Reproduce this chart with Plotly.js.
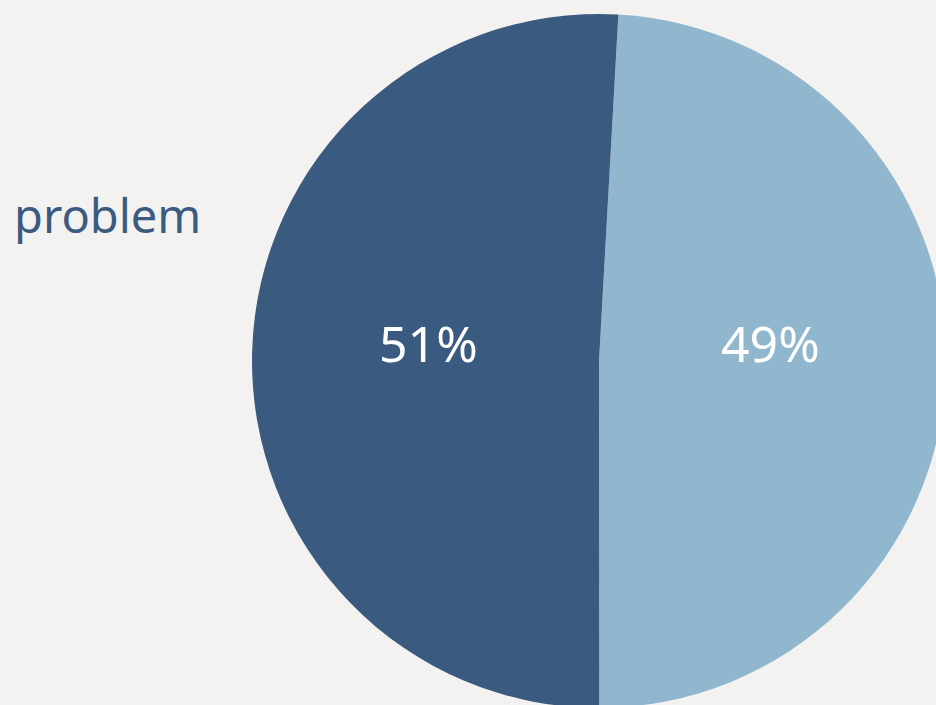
<!DOCTYPE html>
<html>
<head>
<meta charset="utf-8">
<script src="https://cdn.plot.ly/plotly-3.0.1.min.js"></script>
<style>
html,body{margin:0;padding:0;overflow:hidden;background:#f3f2f0;}
#chart{width:960px;height:720px;}
</style>
</head>
<body>
<div id="chart"></div>
<script>
const labels = ["Not a problem", "problem"];
const values = [49.1, 50.9];
const colors = ["#90b7ce", "#3a5b7f"];
const sideLabel = "problem";

const total = values.reduce((a, b) => a + b, 0);
const pctText = values.map(v => Math.round(v / total * 100) + "%");

const data = [{
  type: "pie",
  labels: labels,
  values: values,
  sort: false,
  direction: "clockwise",
  rotation: 3.2,
  marker: {colors: colors, line: {width: 0}},
  textinfo: "none",
  hoverinfo: "none",
  domain: {x: [0.2625, 0.98542], y: [0.01667, 0.98055]},
  showlegend: false
}];

const W = 960, H = 720;
const labelPos = [[770, 343], [428, 343]];

const annotations = [{
  text: sideLabel,
  xref: "paper", yref: "paper",
  x: 12 / W, y: 1 - 215 / H,
  xanchor: "left", yanchor: "middle",
  showarrow: false,
  font: {family: "Noto Sans", size: 47, color: "#3a5b7f"}
}].concat(pctText.map((t, i) => ({
  text: t,
  xref: "paper", yref: "paper",
  x: labelPos[i][0] / W, y: 1 - labelPos[i][1] / H,
  xanchor: "center", yanchor: "middle",
  showarrow: false,
  font: {family: "Noto Sans", size: 50, color: "#ffffff"}
})));

const layout = {
  width: W,
  height: H,
  margin: {l: 0, r: 0, t: 0, b: 0},
  paper_bgcolor: "#f3f2f0",
  plot_bgcolor: "#f3f2f0",
  showlegend: false,
  annotations: annotations
};

Plotly.newPlot("chart", data, layout, {displayModeBar: false, staticPlot: true});
</script>
</body>
</html>
